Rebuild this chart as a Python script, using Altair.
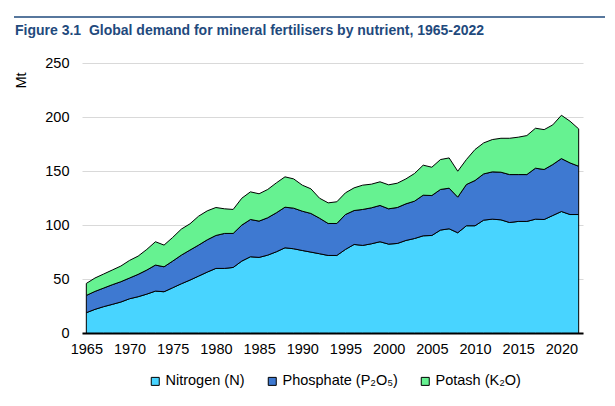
import altair as alt
import pandas as pd

years = list(range(1965, 2023))

nitrogen = [18.8, 21.9, 24.4, 26.5, 28.7, 31.7, 33.6, 36.0, 38.8, 38.2,
            41.9, 45.6, 49.0, 52.7, 56.4, 59.8, 59.8, 60.7, 66.6, 70.6,
            70.0, 72.1, 75.2, 78.9, 78.0, 76.4, 74.9, 73.4, 71.8, 71.8,
            77.4, 82.0, 81.1, 82.6, 84.5, 82.3, 82.9, 85.7, 87.5, 90.0,
            90.3, 95.3, 96.5, 92.8, 99.3, 99.3, 104.5, 105.4, 104.8, 102.3,
            103.3, 103.3, 105.4, 105.1, 108.8, 112.5, 109.7, 109.7]

phosphate = [16.0, 16.6, 17.2, 18.2, 18.8, 19.2, 20.7, 22.3, 24.1, 23.1,
             24.7, 26.5, 27.8, 28.7, 29.9, 30.5, 32.4, 31.5, 33.3, 34.5,
             33.6, 34.6, 36.1, 37.6, 37.6, 36.4, 35.8, 32.9, 29.6, 29.6,
             32.3, 31.4, 33.3, 33.3, 33.6, 32.7, 33.3, 33.9, 34.6, 37.6,
             37.0, 37.6, 37.6, 33.0, 38.2, 41.9, 42.8, 43.8, 44.1, 44.4,
             43.4, 43.4, 47.2, 46.3, 47.2, 49.0, 47.8, 44.7]

potash = [11.1, 12.4, 13.0, 13.6, 14.5, 16.3, 16.9, 19.1, 21.6, 20.1,
          21.9, 24.1, 24.3, 26.8, 26.8, 25.9, 22.8, 22.2, 24.9, 25.6,
          25.3, 26.2, 27.7, 28.1, 27.1, 24.1, 22.8, 18.5, 19.1, 20.1,
          20.1, 21.0, 22.5, 21.9, 21.9, 22.2, 22.5, 23.1, 25.6, 27.8,
          26.2, 27.7, 28.0, 24.0, 23.1, 28.7, 28.7, 29.9, 31.4, 33.6,
          34.6, 36.1, 37.0, 36.9, 36.7, 40.1, 38.6, 34.6]

series_names = ["Nitrogen (N)", "Phosphate (P\u2082O\u2085)", "Potash (K\u2082O)"]
series_colors = ["#48D4FF", "#3E79D1", "#66F291"]
x_ticks = list(range(1965, 2021, 5))
y_ticks = [0, 50, 100, 150, 200, 250]

title_text = "Figure 3.1\u00a0\u00a0Global demand for mineral fertilisers by nutrient, 1965-2022"
title_color = "#1F4A7D"
FONT = "Liberation Sans"
FS = 14.5

rows = []
for i, name in enumerate(series_names):
    vals = [nitrogen, phosphate, potash][i]
    for y, v in zip(years, vals):
        rows.append({"year": y, "value": v, "nutrient": name, "ord": i})
df = pd.DataFrame(rows)

areas = alt.Chart(df).mark_area(stroke="black", strokeWidth=1, interpolate="linear").encode(
    x=alt.X("year:Q",
            scale=alt.Scale(domain=[1964.5, 2022.5], nice=False, zero=False),
            axis=alt.Axis(values=x_ticks, format="d", title=None, grid=False,
                          ticks=False, domainColor="black", domainWidth=2,
                          labelPadding=9, labelFontSize=FS, labelColor="black",
                          labelFont=FONT)),
    y=alt.Y("value:Q", stack="zero",
            scale=alt.Scale(domain=[0, 250], nice=False),
            axis=alt.Axis(values=y_ticks, title="Mt", domain=False, ticks=False,
                          gridColor="#D9D9D9", gridWidth=1, labelPadding=13,
                          labelFontSize=FS, labelColor="black", labelFont=FONT,
                          titleFont=FONT, titleFontSize=FS, titleFontWeight="normal",
                          titleColor="black", titleAngle=-90, titleX=-61, titleY=17,
                          titleAlign="center", titleBaseline="middle")),
    color=alt.Color("nutrient:N",
                    scale=alt.Scale(domain=series_names, range=series_colors),
                    legend=alt.Legend(title=None, orient="none", direction="horizontal",
                                      legendX=66, legendY=311, symbolType="square",
                                      symbolSize=64, symbolStrokeColor="black",
                                      symbolStrokeWidth=1, labelFontSize=FS,
                                      labelFont=FONT, labelColor="black",
                                      labelOffset=3, columnPadding=20)),
    order=alt.Order("ord:Q", sort="ascending"),
)

one = pd.DataFrame({"t": [title_text]})

rule = alt.Chart(one).mark_rule(color=title_color, strokeWidth=1.5).encode(
    x=alt.value(-68), x2=alt.value(523), y=alt.value(-46)
)

title = alt.Chart(one).mark_text(
    align="left", baseline="alphabetic", font=FONT, fontSize=14,
    fontWeight="bold", color=title_color
).encode(text="t:N", x=alt.value(-67), y=alt.value(-28))

chart = alt.layer(areas, rule, title).properties(
    width=501, height=270,
    padding={"left": 82, "top": 63, "right": 32, "bottom": 73},
    autosize=alt.AutoSizeParams(type="none"),
).configure_view(stroke=None)

chart.save("out.html", embed_options={"renderer": "svg", "actions": False})
